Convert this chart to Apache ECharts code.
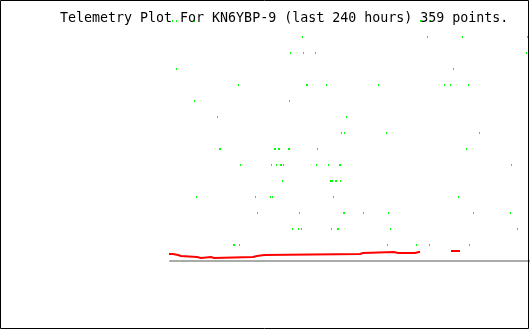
<!DOCTYPE html>
<html>
<head>
<meta charset="utf-8">
<script src="https://cdn.jsdelivr.net/npm/echarts@6/dist/echarts.min.js"></script>
<style>html,body{margin:0;padding:0;background:#fff}#c{width:530px;height:330px}</style>
</head>
<body>
<div id="c"></div>
<script>
const titleText = 'Telemetry Plot For KN6YBP-9 (last 240 hours) 359 points.';
// x: hours since start of 240h window; y: plot units
const xRange = [0, 240];
const yRange = [0, 240];
// green telemetry channel: [hours, value]
const greenPoints = [
  [1.67,240],[4.33,240],[16.33,240],[102.33,240],[167,240],[173.67,240],
  [88.33,224],[171.67,224],[195,224],[238.33,224],
  [80.33,208],[89,208],[97,208],[237.67,208],
  [4.33,192],[189,192],
  [45.67,176],[91,176],[91.67,176],[104.33,176],[139,176],[183,176],[187,176],[199,176],
  [16.33,160],[79.67,160],
  [31.67,144],[117.67,144],
  [114.33,128],[116.33,128],[144.33,128],[206.33,128],
  [33,112],[33.67,112],[69.67,112],[70.33,112],[72.33,112],[73,112],[79,112],[79.67,112],[98.33,112],[197.67,112],
  [47,96],[67.67,96],[71,96],[73.67,96],[74.33,96],[75.67,96],[97.67,96],[105.67,96],[113,96],[113.67,96],[227.67,96],
  [75,80],[107,80],[107.67,80],[108.33,80],[110.33,80],[111,80],[113.67,80],
  [17.67,64],[57,64],[67,64],[68.33,64],[109,64],[192.33,64],
  [58.33,48],[86.33,48],[115.67,48],[116.33,48],[129,48],[145.67,48],[202.33,48],[227,48],
  [81.67,32],[85.67,32],[87.67,32],[107.67,32],[111.67,32],[112.33,32],[147,32],[231.67,32],
  [42.33,16],[43,16],[46.33,16],[145,16],[164.33,16],[173,16],[199.67,16]
];
// red telemetry channel, traced as level runs: [hours, value]; '-' breaks the trace
const redPoints = [
  [0,7],[2,7],[2,6],[5.33,6],[5.33,5],[7.33,5],[7.33,4],[18,4],[18,3],[20.67,3],[20.67,4],
  [27.33,4],[27.33,3],[29.33,3],[29.33,4],[55.33,4],[55.33,5],[58,5],[58,6],[62.67,6],[62.67,7],
  [126.67,7],[126.67,8],[128.67,8],[128.67,9],[149.33,9],[149.33,8],[152,8],[152,9],[152.67,9],
  [152.67,8],[154,8],[154,9],[154.67,9],[154.67,8],[163.33,8],[163.33,9],[166,9],
  '-',
  [188,10],[192.67,10]
];

const chart = echarts.init(document.getElementById('c'), null, {renderer:'canvas'});
chart.setOption({
  animation: false,
  backgroundColor: '#ffffff',
  title: {
    text: titleText, left: 60, top: 12, padding: 0,
    textStyle: {fontFamily: 'DejaVu Sans Mono', fontSize: 13.3, fontWeight: 'normal', color: '#000'}
  },
  grid: {left: 170, right: 0, top: 21, bottom: 69},
  xAxis: {
    type: 'value', min: xRange[0], max: xRange[1],
    axisLine: {show: true, onZero: false, lineStyle: {color: '#aaaaaa', width: 2}},
    axisTick: {show: false}, axisLabel: {show: false}, splitLine: {show: false}
  },
  yAxis: {
    type: 'value', min: yRange[0], max: yRange[1],
    axisLine: {show: false}, axisTick: {show: false}, axisLabel: {show: false}, splitLine: {show: false}
  },
  series: [
    {
      type: 'line', data: redPoints, showSymbol: false, clip: false, connectNulls: false,
      lineStyle: {color: '#ff0000', width: 2, cap: 'square', join: 'miter'}, itemStyle: {color: '#ff0000'}
    },
    {
      type: 'custom', data: greenPoints, clip: false,
      renderItem: function (params, api) {
        const p = api.coord([api.value(0), api.value(1)]);
        return {
          type: 'rect',
          shape: {x: Math.floor(p[0]), y: Math.round(p[1]) - 1, width: 1, height: 2},
          style: {fill: '#00ff00'}
        };
      }
    }
  ],
  graphic: [{
    type: 'rect', z: 100, silent: true,
    shape: {x: 0.5, y: 0.5, width: 528, height: 328},
    style: {fill: null, stroke: '#000', lineWidth: 1}
  }]
});
</script>
</body>
</html>
